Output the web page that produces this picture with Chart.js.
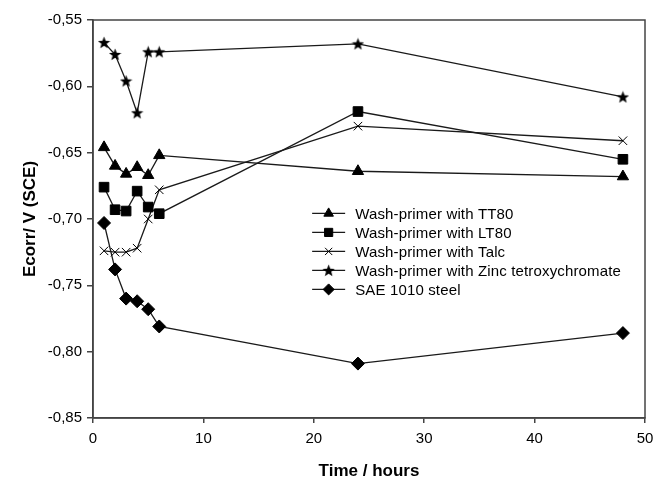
<!DOCTYPE html>
<html>
<head>
<meta charset="utf-8">
<script src="https://cdn.jsdelivr.net/npm/chart.js@4/dist/chart.umd.min.js"></script>
<style>
  html, body { margin: 0; padding: 0; background: #fff; }
  #wrap { width: 654px; height: 482px; }
</style>
</head>
<body>
<div id="wrap"><canvas id="ecorrChart" width="654" height="482"></canvas></div>
<script>
// immersion time (hours) and corrosion potential (V vs SCE)
const hours = [1, 2, 3, 4, 5, 6, 24, 48];
const tt80 = [-0.646, -0.660, -0.666, -0.661, -0.667, -0.652, -0.664, -0.668];
const lt80 = [-0.676, -0.693, -0.694, -0.679, -0.691, -0.696, -0.619, -0.655];
const talc = [-0.724, -0.725, -0.725, -0.722, -0.700, -0.678, -0.630, -0.641];
const zinc = [-0.567, -0.576, -0.596, -0.620, -0.574, -0.574, -0.568, -0.608];
const steel = [-0.703, -0.738, -0.760, -0.762, -0.768, -0.781, -0.809, -0.786];
const seriesNames = [
  'Wash-primer with TT80',
  'Wash-primer with LT80',
  'Wash-primer with Talc',
  'Wash-primer with Zinc tetroxychromate',
  'SAE 1010 steel'
];
const yTicks = [-0.85, -0.80, -0.75, -0.70, -0.65, -0.60, -0.55];
const xTicks = [0, 10, 20, 30, 40, 50];

const FONT = '"Liberation Sans", Arial, sans-serif';

// filled five-point star, used as a point style
function makeStar(size) {
  const c = document.createElement('canvas');
  c.width = size; c.height = size;
  const g = c.getContext('2d');
  const cx = size / 2, cy = size / 2 + 0.5, ro = size / 2, ri = ro * 0.42;
  g.beginPath();
  for (let i = 0; i < 10; i++) {
    const r = i % 2 ? ri : ro;
    const a = -Math.PI / 2 + i * Math.PI / 5;
    g.lineTo(cx + r * Math.cos(a), cy + r * Math.sin(a));
  }
  g.closePath();
  g.fillStyle = '#000';
  g.fill();
  return c;
}
const star = makeStar(13);

const toPoints = vals => vals.map((v, i) => ({ x: hours[i], y: v }));
const comma = v => v.toFixed(2).replace('.', ',');

function series(label, vals, style, radius) {
  return {
    label: label,
    data: toPoints(vals),
    borderColor: '#1a1a1a',
    backgroundColor: '#000',
    borderWidth: 1.3,
    pointStyle: style,
    pointRadius: radius,
    pointBorderColor: '#000',
    pointBackgroundColor: '#000',
    pointBorderWidth: 1,
    tension: 0
  };
}

// frame around the plot area
const frame = {
  id: 'frame',
  afterDraw(chart) {
    const { ctx, chartArea: a } = chart;
    ctx.save();
    ctx.strokeStyle = '#444';
    ctx.lineWidth = 1.5;
    ctx.strokeRect(a.left, a.top, a.right - a.left, a.bottom - a.top);
    ctx.restore();
  }
};

// legend drawn inside the plot, line + marker + label
const innerLegend = {
  id: 'innerLegend',
  afterDatasetsDraw(chart) {
    const { ctx, chartArea: a } = chart;
    const x0 = a.left + 0.397 * (a.right - a.left);
    let y = a.top + 0.486 * (a.bottom - a.top);
    ctx.save();
    ctx.font = '15px ' + FONT;
    ctx.letterSpacing = '0.15px';
    ctx.textBaseline = 'middle';
    chart.data.datasets.forEach(ds => {
      ctx.strokeStyle = '#1a1a1a';
      ctx.lineWidth = 1.3;
      ctx.beginPath();
      ctx.moveTo(x0, y);
      ctx.lineTo(x0 + 33, y);
      ctx.stroke();
      ctx.fillStyle = '#000';
      ctx.strokeStyle = '#000';
      ctx.lineWidth = 1;
      const r = ds.pointStyle === star ? ds.pointRadius : ds.pointRadius * 0.85;
      Chart.helpers.drawPoint(ctx, { pointStyle: ds.pointStyle, radius: r, rotation: 0, borderWidth: 1 }, x0 + 16.5, y);
      ctx.fillStyle = '#000';
      ctx.fillText(ds.label, x0 + 43, y + 1);
      y += 19;
    });
    ctx.restore();
  }
};

const ctx = document.getElementById('ecorrChart').getContext('2d');
new Chart(ctx, {
  type: 'line',
  data: {
    datasets: [
      series(seriesNames[0], tt80, 'triangle', 6.5),
      series(seriesNames[1], lt80, 'rect', 6.8),
      series(seriesNames[2], talc, 'crossRot', 6),
      series(seriesNames[3], zinc, star, 6),
      series(seriesNames[4], steel, 'rectRot', 6.5)
    ]
  },
  options: {
    responsive: false,
    animation: false,
    layout: { padding: { top: 20, right: 9, left: 20, bottom: 0 } },
    plugins: {
      legend: { display: false },
      tooltip: { enabled: false }
    },
    scales: {
      x: {
        type: 'linear',
        min: 0,
        max: 50,
        afterBuildTicks: s => { s.ticks = xTicks.map(v => ({ value: v })); },
        afterFit: s => { s.height = 64; s.paddingRight = 0; s.paddingLeft = 0; },
        grid: { drawOnChartArea: false, drawTicks: true, tickLength: 5, color: '#444', lineWidth: 1.5 },
        border: { color: '#444', width: 1.5 },
        ticks: { color: '#000', padding: 7, font: { family: FONT, size: 15 } },
        title: {
          display: true,
          text: 'Time / hours',
          color: '#000',
          padding: { top: 8, bottom: 0 },
          font: { family: FONT, size: 17, weight: 'bold' }
        }
      },
      y: {
        min: -0.85,
        max: -0.55,
        afterBuildTicks: s => { s.ticks = yTicks.map(v => ({ value: v })); },
        afterFit: s => { s.width = 73; },
        grid: { drawOnChartArea: false, drawTicks: true, tickLength: 6, color: '#444', lineWidth: 1.5 },
        border: { color: '#444', width: 1.5 },
        ticks: {
          color: '#000',
          padding: 5,
          font: { family: FONT, size: 15 },
          callback: v => comma(v)
        },
        title: {
          display: true,
          text: 'Ecorr/ V (SCE)',
          color: '#000',
          padding: { top: 0, bottom: 4 },
          font: { family: FONT, size: 17, weight: 'bold' }
        }
      }
    }
  },
  plugins: [frame, innerLegend]
});
</script>
</body>
</html>
